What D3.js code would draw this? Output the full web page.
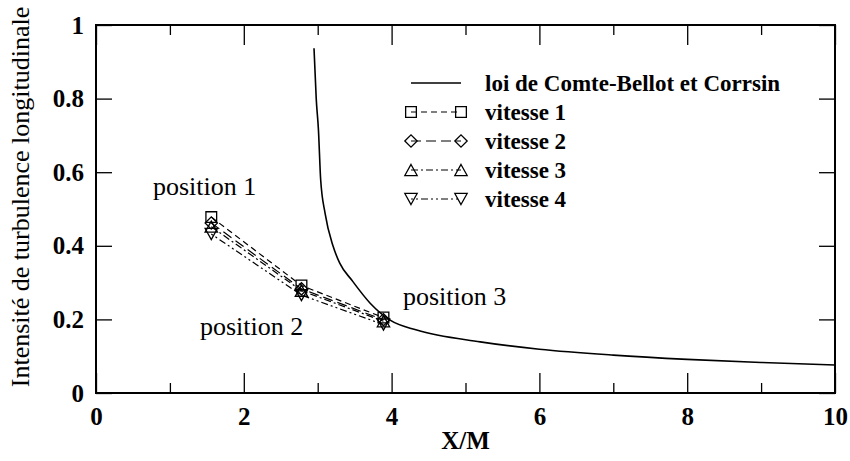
<!DOCTYPE html>
<html>
<head>
<meta charset="utf-8">
<script src="https://cdn.jsdelivr.net/npm/d3@7"></script>
<style>
  body { margin: 0; background: #fff; }
</style>
</head>
<body>
<svg id="chart" width="850" height="461"></svg>
<script>
// Measuring stations along the channel (X/M)
const positionsXM = [1.56, 2.78, 3.89];
const positionLabels = ["position 1", "position 2", "position 3"];

// Longitudinal turbulence intensity at each station, one array per speed
const vitesse1 = [0.478, 0.292, 0.205];
const vitesse2 = [0.462, 0.283, 0.199];
const vitesse3 = [0.452, 0.278, 0.195];
const vitesse4 = [0.432, 0.266, 0.186];
const seriesNames = ["vitesse 1", "vitesse 2", "vitesse 3", "vitesse 4"];

// Comte-Bellot & Corrsin decay law, sampled along the curve
const lawX = [2.95, 2.98, 3.01, 3.04, 3.10, 3.21, 3.30, 3.46, 3.71, 3.98, 4.34, 5.2, 6.0, 7.0, 8.0, 9.0, 10.0];
const lawY = [0.937, 0.80, 0.715, 0.58, 0.488, 0.398, 0.352, 0.307, 0.244, 0.198, 0.171, 0.139, 0.119, 0.103, 0.0915, 0.083, 0.076];
const lawName = "loi de Comte-Bellot et Corrsin";

// Axis ticks
const xMajorTicks = [0, 2, 4, 6, 8, 10];
const xMinorTicks = [1, 3, 5, 7, 9];
const yTicks = [0, 0.2, 0.4, 0.6, 0.8, 1];
const xTitle = "X/M";
const yTitle = "Intensité de turbulence longitudinale";

const FONT = "'Liberation Serif', 'Times New Roman', Tinos, 'DejaVu Serif', serif";

const svg = d3.select("#chart");
const plotL = 96, plotR = 835, plotT = 25, plotB = 393;
const x = d3.scaleLinear().domain([0, 10]).range([plotL, plotR]);
const y = d3.scaleLinear().domain([0, 1]).range([plotB, plotT]);

const xMajorLen = 20, xMinorLen = 10, yMajorLen = 16;

// Bottom axis with labels
svg.append("g").attr("transform", `translate(0,${plotB})`)
  .call(d3.axisBottom(x).tickValues(xMajorTicks).tickSizeInner(-xMajorLen).tickSizeOuter(0)
    .tickPadding(14).tickFormat(d3.format("d")));
svg.append("g").attr("transform", `translate(0,${plotB})`)
  .call(d3.axisBottom(x).tickValues(xMinorTicks).tickSizeInner(-xMinorLen).tickSizeOuter(0).tickFormat(""));
// Top axis, ticks only
svg.append("g").attr("transform", `translate(0,${plotT})`)
  .call(d3.axisTop(x).tickValues(xMajorTicks).tickSizeInner(-xMajorLen).tickSizeOuter(0).tickFormat(""));
svg.append("g").attr("transform", `translate(0,${plotT})`)
  .call(d3.axisTop(x).tickValues(xMinorTicks).tickSizeInner(-xMinorLen).tickSizeOuter(0).tickFormat(""));
// Left axis with labels
svg.append("g").attr("transform", `translate(${plotL},0)`)
  .call(d3.axisLeft(y).tickValues(yTicks).tickSizeInner(-yMajorLen).tickSizeOuter(0)
    .tickPadding(12).tickFormat(d => d === 0 || d === 1 ? d3.format("d")(d) : d3.format(".1f")(d)));
// Right axis, ticks only
svg.append("g").attr("transform", `translate(${plotR},0)`)
  .call(d3.axisRight(y).tickValues(yTicks).tickSizeInner(-yMajorLen).tickSizeOuter(0).tickFormat(""));

svg.selectAll(".domain").remove();
svg.selectAll("g").attr("font-family", null).attr("font-size", null);
svg.selectAll(".tick line").attr("stroke", "#000").attr("stroke-width", 1.3);
svg.selectAll(".tick text")
  .attr("font-family", FONT).attr("font-size", 25).attr("font-weight", "bold").attr("fill", "#000");

// Plot frame
svg.append("rect")
  .attr("x", plotL).attr("y", plotT).attr("width", plotR - plotL).attr("height", plotB - plotT)
  .attr("fill", "none").attr("stroke", "#000").attr("stroke-width", 2);

// Axis titles
svg.append("text").attr("x", (plotL + plotR) / 2).attr("y", 449)
  .attr("text-anchor", "middle").attr("font-family", FONT).attr("font-size", 25)
  .attr("font-weight", "bold").text(xTitle);
svg.append("text").attr("transform", "translate(29,197) rotate(-90)")
  .attr("text-anchor", "middle").attr("font-family", FONT).attr("font-size", 26).text(yTitle);

// Decay law curve
const lawPts = lawX.map((v, i) => [v, lawY[i]]);
svg.append("path").datum(lawPts)
  .attr("fill", "none").attr("stroke", "#000").attr("stroke-width", 1.6)
  .attr("d", d3.line().x(d => x(d[0])).y(d => y(d[1])).curve(d3.curveMonotoneX));

// Marker shapes
const wideDiamond = { draw(ctx, size) { const r = Math.sqrt(size) / 2 * 1.15;
  ctx.moveTo(-r, 0); ctx.lineTo(0, -r); ctx.lineTo(r, 0); ctx.lineTo(0, r); ctx.closePath(); } };
const triUp = { draw(ctx, size) { const w = Math.sqrt(size) / 2 * 1.15, h = w * 0.9;
  ctx.moveTo(0, -h); ctx.lineTo(w, h); ctx.lineTo(-w, h); ctx.closePath(); } };
const triDown = { draw(ctx, size) { const w = Math.sqrt(size) / 2 * 1.15, h = w * 0.9;
  ctx.moveTo(0, h); ctx.lineTo(w, -h); ctx.lineTo(-w, -h); ctx.closePath(); } };
const symbolTypes = [d3.symbolSquare, wideDiamond, triUp, triDown];
const dashes = ["6,4", "10,5", "7,3,2,3", "2,3,2,3,7,3"];
const seriesValues = [vitesse1, vitesse2, vitesse3, vitesse4];
const markerSize = 115;

seriesValues.forEach((vals, s) => {
  const pts = positionsXM.map((v, i) => [v, vals[i]]);
  svg.append("path").datum(pts)
    .attr("fill", "none").attr("stroke", "#000").attr("stroke-width", 1.2)
    .attr("stroke-dasharray", dashes[s])
    .attr("d", d3.line().x(d => x(d[0])).y(d => y(d[1])));
  svg.append("g").selectAll("path").data(pts).join("path")
    .attr("transform", d => `translate(${x(d[0])},${y(d[1])})`)
    .attr("d", d3.symbol().type(symbolTypes[s]).size(markerSize))
    .attr("fill", "none").attr("stroke", "#000").attr("stroke-width", 1.3);
});

// Station labels
const labelPos = [[153, 195], [200, 335], [403, 305]];
positionLabels.forEach((t, i) => {
  svg.append("text").attr("x", labelPos[i][0]).attr("y", labelPos[i][1])
    .attr("font-family", FONT).attr("font-size", 26).text(t);
});

// Legend
const legX0 = 411, legX1 = 461, legText = 485, legY0 = 83, legDy = 29;
const lg = svg.append("g");
lg.append("line").attr("x1", legX0).attr("x2", legX1).attr("y1", legY0).attr("y2", legY0)
  .attr("stroke", "#000").attr("stroke-width", 1.6);
lg.append("text").attr("x", legText).attr("y", legY0).attr("dy", "0.33em")
  .attr("font-family", FONT).attr("font-size", 23).attr("font-weight", "bold").text(lawName);
seriesNames.forEach((name, s) => {
  const yy = legY0 + legDy * (s + 1);
  lg.append("line").attr("x1", legX0).attr("x2", legX1).attr("y1", yy).attr("y2", yy)
    .attr("stroke", "#000").attr("stroke-width", 1.2).attr("stroke-dasharray", dashes[s]);
  [legX0, legX1].forEach(px => {
    lg.append("path").attr("transform", `translate(${px},${yy})`)
      .attr("d", d3.symbol().type(symbolTypes[s]).size(markerSize))
      .attr("fill", "none").attr("stroke", "#000").attr("stroke-width", 1.3);
  });
  lg.append("text").attr("x", legText).attr("y", yy).attr("dy", "0.33em")
    .attr("font-family", FONT).attr("font-size", 23).attr("font-weight", "bold").text(name);
});
</script>
</body>
</html>
